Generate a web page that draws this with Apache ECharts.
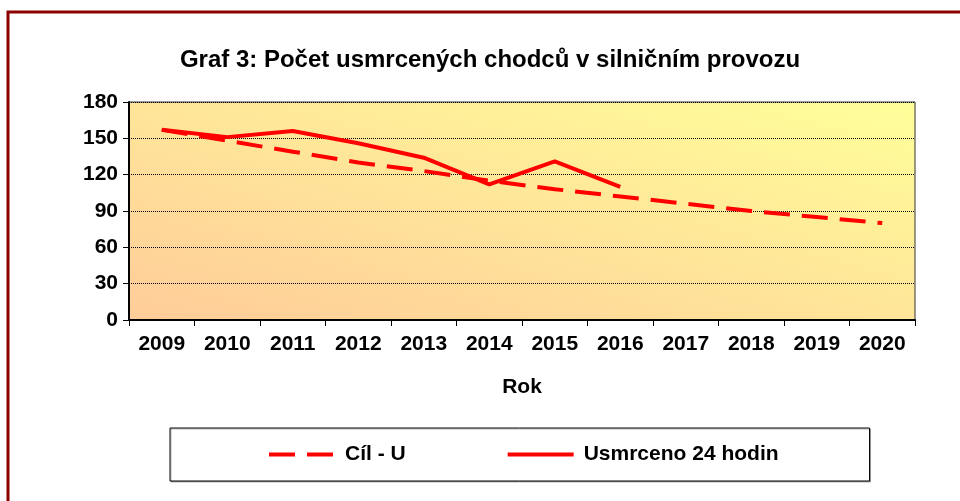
<!DOCTYPE html>
<html lang="cs">
<head>
<meta charset="UTF-8">
<title>Graf 3</title>
<style>
  html, body { margin: 0; padding: 0; background: #fff; }
  #main { width: 960px; height: 501px; }
</style>
</head>
<body>
<div id="main"></div>
<script src="https://cdn.jsdelivr.net/npm/echarts@6/dist/echarts.min.js"></script>
<script>
// data
const years = ['2009', '2010', '2011', '2012', '2013', '2014', '2015', '2016', '2017', '2018', '2019', '2020'];
const cilU = [157, 148, 139, 130, 123, 115, 108, 102, 96, 90, 85, 80];
const usmrceno = [157, 151, 156, 146, 134, 112, 131, 110, null, null, null, null];
const yTicks = [0, 30, 60, 90, 120, 150, 180];

const font = 'Arial, "Liberation Sans", sans-serif';
const red = '#ff0000';

var chart = echarts.init(document.getElementById('main'));
var option = {
    animation: false,
    textStyle: { fontFamily: font },
    title: {
        text: 'Graf 3: Počet usmrcených chodců v silničním provozu',
        left: 485,
        textAlign: 'center',
        top: 43,
        textStyle: { fontSize: 24, fontWeight: 'bold', color: '#000', fontFamily: font }
    },
    graphic: [
        {
            type: 'rect',
            shape: { x: 8, y: 12, width: 1000, height: 600 },
            style: { fill: 'none', stroke: '#8b0000', lineWidth: 3 },
            z: 100
        }
    ],
    grid: {
        left: 129,
        right: 45,
        top: 102,
        height: 218,
        show: true,
        borderColor: '#333',
        borderWidth: 1,
        // excel style "diagonal up" fill: isolines follow the other diagonal
        backgroundColor: {
            type: 'linear', global: true,
            x: 129, y: 320, x2: 241, y2: -85,
            colorStops: [
                { offset: 0, color: '#ffcc99' },
                { offset: 1, color: '#ffff99' }
            ]
        }
    },
    legend: {
        left: 170,
        top: 428,
        itemWidth: 66,
        itemHeight: 4,
        itemGap: 100,
        padding: [16, 91, 16, 97],
        borderColor: '#000',
        borderWidth: 1,
        backgroundColor: '#fff',
        shadowColor: 'rgba(0,0,0,0.3)',
        shadowOffsetX: 1,
        shadowOffsetY: 1,
        shadowBlur: 0,
        itemStyle: { opacity: 0 },
        lineStyle: { width: 4 },
        data: ['Cíl - U', 'Usmrceno 24 hodin'],
        textStyle: { fontSize: 21, fontWeight: 'bold', color: '#000', fontFamily: font, padding: [0, 0, 0, 5] }
    },
    xAxis: {
        type: 'category',
        data: years,
        boundaryGap: true,
        name: 'Rok',
        nameLocation: 'middle',
        nameGap: 57,
        nameTextStyle: { fontSize: 21, fontWeight: 'bold', color: '#000', fontFamily: font },
        axisLine: { lineStyle: { color: '#000', width: 2 } },
        axisTick: { show: true, length: 6, lineStyle: { color: '#000' } },
        axisLabel: { margin: 14, fontSize: 21, fontWeight: 'bold', color: '#000', fontFamily: font }
    },
    yAxis: {
        type: 'value',
        min: yTicks[0],
        max: yTicks[yTicks.length - 1],
        interval: 30,
        axisLine: { show: true, lineStyle: { color: '#000', width: 2 } },
        axisTick: { show: true, length: 6, lineStyle: { color: '#000' } },
        axisLabel: { margin: 11, fontSize: 21, fontWeight: 'bold', color: '#000', fontFamily: font },
        splitLine: { show: true, lineStyle: { color: '#000', type: 'dotted', width: 1 } }
    },
    series: [
        {
            name: 'Cíl - U',
            type: 'line',
            data: cilU,
            showSymbol: false,
            symbol: 'none',
            lineStyle: { color: red, width: 4, type: [26, 12] },
            itemStyle: { color: red }
        },
        {
            name: 'Usmrceno 24 hodin',
            type: 'line',
            data: usmrceno,
            showSymbol: false,
            symbol: 'none',
            connectNulls: false,
            lineStyle: { color: red, width: 4 },
            itemStyle: { color: red }
        }
    ]
};
option && chart.setOption(option);
</script>
</body>
</html>
